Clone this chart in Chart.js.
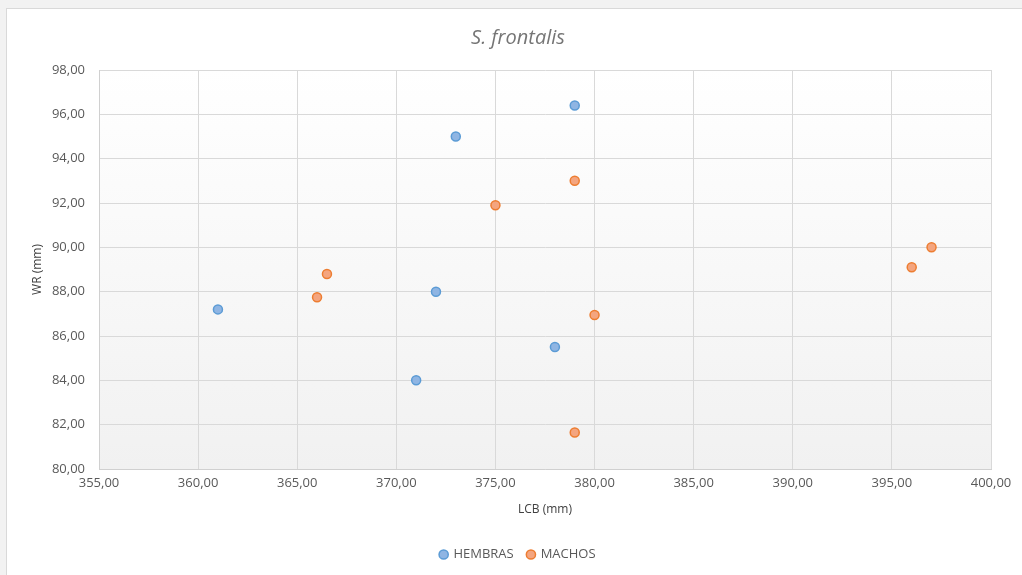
<!DOCTYPE html>
<html>
<head>
<meta charset="utf-8">
<script src="https://cdn.jsdelivr.net/npm/chart.js@4/dist/chart.umd.min.js"></script>
<style>
  html, body { margin: 0; padding: 0; background: #f2f2f2; width: 1022px; height: 575px; overflow: hidden; }
  #card { position: absolute; left: 6px; top: 8px; width: 1030px; height: 600px; background: #ffffff; border: 1px solid #d9d9d9; }
  #wrap { position: absolute; left: 0; top: 0; width: 1022px; height: 575px; }
</style>
</head>
<body>
<div id="card"></div>
<div id="wrap"><canvas id="chart" width="1022" height="575"></canvas></div>
<script>
// S. frontalis: skull length (LCB) against WR, by sex
const hembrasLCB = [361, 371, 372, 373, 378, 379];
const hembrasWR  = [87.2, 84.0, 88.0, 95.0, 85.5, 96.4];
const machosLCB  = [366, 366.5, 375, 379, 379, 380, 396, 397];
const machosWR   = [87.75, 88.8, 91.9, 93.0, 81.65, 86.95, 89.1, 90.0];

const seriesNames = ['HEMBRAS', 'MACHOS'];
const xRange = [355, 400, 5];
const yRange = [80, 98, 2];

const toPoints = (xs, ys) => xs.map((x, i) => ({ x: x, y: ys[i] }));
const fmt = v => Number(v).toFixed(2).replace('.', ',');

const FONT = "'Open Sans', 'Noto Sans', sans-serif";

// Soft vertical gradient behind the plot area
const plotBackground = {
  id: 'plotBackground',
  beforeDraw(chart) {
    const a = chart.chartArea;
    const ctx = chart.ctx;
    const g = ctx.createLinearGradient(0, a.top, 0, a.bottom);
    g.addColorStop(0, '#ffffff');
    g.addColorStop(1, '#f1f1f1');
    ctx.save();
    ctx.fillStyle = g;
    ctx.fillRect(a.left, a.top, a.right - a.left, a.bottom - a.top);
    ctx.restore();
  }
};

new Chart(document.getElementById('chart'), {
  type: 'scatter',
  data: {
    datasets: [
      {
        label: seriesNames[0],
        data: toPoints(hembrasLCB, hembrasWR),
        backgroundColor: '#8fb5e3',
        borderColor: '#5b9bd5',
        borderWidth: 1.5,
        pointRadius: 4.5,
        pointHoverRadius: 4.5
      },
      {
        label: seriesNames[1],
        data: toPoints(machosLCB, machosWR),
        backgroundColor: '#f4a57f',
        borderColor: '#ed7d31',
        borderWidth: 1.5,
        pointRadius: 4.5,
        pointHoverRadius: 4.5
      }
    ]
  },
  options: {
    responsive: false,
    animation: false,
    layout: { padding: { left: 45, right: 31, top: 10, bottom: 4 } },
    plugins: {
      tooltip: { enabled: false },
      title: {
        display: true,
        text: 'S. frontalis',
        color: '#757575',
        font: { family: FONT, size: 20, style: 'italic', weight: 'normal' },
        padding: { top: 16, bottom: 20 }
      },
      legend: {
        position: 'bottom',
        labels: {
          usePointStyle: true,
          boxWidth: 6.5,
          boxHeight: 6.5,
          color: '#595959',
          padding: 14,
          font: { family: FONT, size: 13 }
        }
      }
    },
    scales: {
      x: {
        type: 'linear',
        min: xRange[0],
        max: xRange[1],
        ticks: {
          stepSize: xRange[2],
          color: '#595959',
          font: { family: FONT, size: 13 },
          padding: 6,
          maxRotation: 0,
          callback: v => fmt(v)
        },
        grid: { color: '#d9d9d9', drawTicks: false },
        border: { display: true, color: '#d0d0d0' },
        title: {
          display: true,
          text: 'LCB (mm)',
          color: '#404040',
          font: { family: FONT, size: 12 },
          padding: { top: 10, bottom: 17 }
        },
        afterFit(scale) { scale.height = 65; }
      },
      y: {
        type: 'linear',
        min: yRange[0],
        max: yRange[1],
        ticks: {
          stepSize: yRange[2],
          color: '#595959',
          font: { family: FONT, size: 13 },
          padding: 14,
          callback: v => fmt(v)
        },
        grid: { color: '#d9d9d9', drawTicks: false },
        border: { display: true, color: '#d0d0d0' },
        title: {
          display: true,
          text: 'WR (mm)',
          color: '#404040',
          font: { family: FONT, size: 12 },
          // pulls the rotated title out into the left margin
          padding: { top: -15, bottom: 0 }
        },
        afterFit(scale) { scale.width = 54; }
      }
    }
  },
  plugins: [plotBackground]
});
</script>
</body>
</html>
